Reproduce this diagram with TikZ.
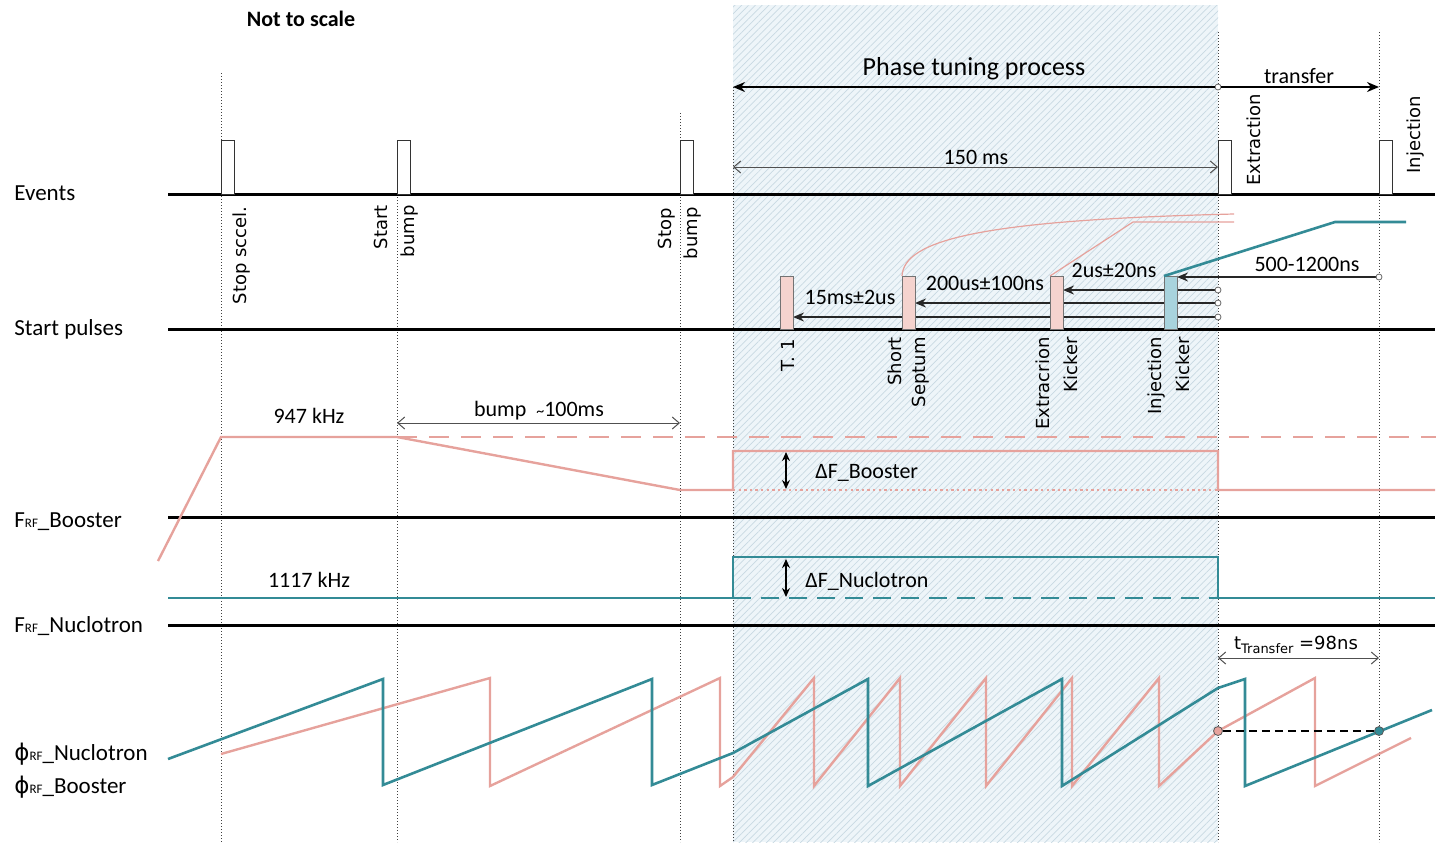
\documentclass[tikz,border=0pt]{standalone}
\usepackage{fontspec}
\setmainfont{Carlito}
\newfontfamily\dvs{DejaVu Sans}
\usetikzlibrary{arrows.meta,patterns.meta}
\definecolor{pinkc}{HTML}{E6A29C}
\definecolor{tealc}{HTML}{338B96}
\definecolor{pinkfill}{HTML}{F5D3CE}
\definecolor{bluefill}{HTML}{A8D3DD}
\definecolor{hatchbg}{HTML}{EEF5F9}
\definecolor{hatchln}{HTML}{C8D9E2}
\definecolor{dimgrey}{HTML}{505050}
\pgfdeclarelayer{back}
\pgfdeclarelayer{mid}
\pgfsetlayers{back,mid,main}
\newcommand\rfsub{{\fontsize{6.5}{7}\selectfont RF}}
\begin{document}
\begin{tikzpicture}[x=0.5pt,y=-0.5pt,
  axis/.style={line width=1.5pt,black},
  vguide/.style={line width=0.5pt,black!75,dash pattern=on 0.6pt off 0.9pt},
  pinkline/.style={pinkc,line width=1.2pt},
  tealline/.style={tealc,line width=1.3pt},
  evpulse/.style={draw=black!80,fill=white,line width=0.5pt,minimum width=6.5pt,minimum height=27pt,inner sep=0pt,outer sep=0pt,anchor=south west},
  stpulse/.style={draw=black!55,line width=0.5pt,minimum width=6.5pt,minimum height=26.5pt,inner sep=0pt,outer sep=0pt,anchor=south west},
  lbl/.style={font=\fontsize{11}{13}\selectfont,inner sep=0pt},
  side/.style={font=\fontsize{11.5}{13}\selectfont,inner sep=0pt,anchor=base west},
  vlbl/.style={font=\dvs\fontsize{9}{11}\selectfont,rotate=90,inner sep=0pt},
  dim/.style={dimgrey,line width=0.5pt,{Straight Barb[length=3.5pt,width=6pt]}-{Straight Barb[length=3.5pt,width=6pt]}},
  parrow/.style={black!85,line width=0.75pt,-{Stealth[length=5.5pt,width=4.5pt]}},
  bigarrow/.style={black,line width=0.9pt,-{Stealth[length=6pt,width=5pt]}},
  circ/.style={circle,draw=black!60,fill=white,line width=0.4pt,inner sep=0pt,minimum size=3pt},
  dot/.style={circle,draw=black!65,line width=0.4pt,inner sep=0pt,minimum size=4.5pt},
  deltaarrow/.style={black,line width=0.8pt,{Stealth[length=4.5pt,width=4pt]}-{Stealth[length=4.5pt,width=4pt]}},
]
\useasboundingbox (0,0) rectangle (1441,842);

% ---------- background: hatched phase-tuning window and guides
\begin{pgfonlayer}{back}
\fill[hatchbg] (733,5) rectangle (1218,842);
\fill[pattern={Lines[angle=45,distance=2.4pt,line width=0.35pt]},pattern color=hatchln] (733,5) rectangle (1218,842);
\draw[vguide] (221,73) -- (221,842);
\draw[vguide] (397,140) -- (397,842);
\draw[vguide] (680,113) -- (680,842);
\draw[vguide] (733,87) -- (733,842);
\draw[vguide] (1218,32) -- (1218,842);
\draw[vguide] (1379,32) -- (1379,842);
\end{pgfonlayer}

% ---------- title
\node[font=\bfseries\fontsize{11}{13}\selectfont,inner sep=0pt,anchor=base] (title) at (301,26) {Not to scale};

% ---------- row labels
\node[side] (lEv) at (14,200) {Events};
\node[side] (lSp) at (14,335) {Start pulses};
\node[side] (lFb) at (14,527) {F\rfsub\_Booster};
\node[side] (lFn) at (14,632) {F\rfsub\_Nuclotron};
\node[side] (lPn) at (14,760) {{\dvs ϕ}\rfsub\_Nuclotron};
\node[side] (lPb) at (14,793) {{\dvs ϕ}\rfsub\_Booster};

% ---------- axes
\draw[axis] (168,194) -- (1435,194);
\draw[axis] (168,329) -- (1435,329);
\draw[axis] (168,517) -- (1435,517);
\draw[axis] (168,625) -- (1435,625);

% ---------- phase tuning / transfer arrows
\node[circ] (ptc) at (1218,87) {};
\coordinate (ptl) at (733,87);
\coordinate (trr) at (1379,87);
\draw[bigarrow] (ptc) -- (ptl);
\draw[bigarrow] (ptc) -- (trr);
\node[font=\fontsize{13}{15}\selectfont,inner sep=0pt,anchor=base] (ptp) at (974,75) {Phase tuning process};
\node[lbl,anchor=base] (trn) at (1299,83) {transfer};

\coordinate (ms1) at (733,167);
\coordinate (ms2) at (1218,167);
\draw[dim] (ms1) -- (ms2);
\node[lbl,anchor=base] (ms150) at (976,164) {150 ms};

% ---------- event pulses
\node[evpulse] (ev1) at (221,194) {};
\node[evpulse] (ev2) at (397,194) {};
\node[evpulse] (ev3) at (680,194) {};
\node[evpulse] (ev4) at (1218,194) {};
\node[evpulse] (ev5) at (1379,194) {};
\node[vlbl,anchor=east] (lb1) at (242,206) {Stop sccel.};
\node[vlbl,anchor=east] (lb2a) at (381,205) {Start};
\node[vlbl,anchor=east] (lb2b) at (410,205) {bump};
\node[vlbl,anchor=east] (lb3a) at (667,208) {Stop};
\node[vlbl,anchor=east] (lb3b) at (693,207) {bump};
\node[vlbl,anchor=west] (lb4) at (1254,186) {Extraction};
\node[vlbl,anchor=west] (lb5) at (1416,174) {Injection};

% ---------- start pulses
\node[stpulse,fill=pinkfill] (t1) at (780,329) {};
\node[stpulse,fill=pinkfill] (ss) at (902,329) {};
\node[stpulse,fill=pinkfill] (ek) at (1050,329) {};
\node[stpulse,fill=bluefill] (ik) at (1164,329) {};
\node[vlbl,anchor=east] (lt1) at (788,339) {T. 1};
\node[vlbl,anchor=east] (lss1) at (895,337) {Short};
\node[vlbl,anchor=east] (lss2) at (921,337) {Septum};
\node[vlbl,anchor=east] (lek1) at (1043,337) {Extracrion};
\node[vlbl,anchor=east] (lek2) at (1071,337) {Kicker};
\node[vlbl,anchor=east] (lik1) at (1157,337) {Injection};
\node[vlbl,anchor=east] (lik2) at (1183,337) {Kicker};

\node[circ] (c1) at (1218,317) {};
\node[circ] (c2) at (1218,303) {};
\node[circ] (c3) at (1218,290) {};
\node[circ] (c4) at (1379,277) {};
\begin{pgfonlayer}{mid}
\draw[parrow] (c1.west) -- (c1 -| t1.east);
\draw[parrow] (c2.west) -- (c2 -| ss.east);
\draw[parrow] (c3.west) -- (c3 -| ek.east);
\draw[parrow] (c4.west) -- (c4 -| ik.east);
\end{pgfonlayer}
\node[lbl] (d1) at (850,297) {15ms±2us};
\node[lbl] (d2) at (985,283) {200us±100ns};
\node[lbl] (d3) at (1114,270) {2us±20ns};
\node[lbl] (d4) at (1307,264) {500-1200ns};

% response curves
\draw[pinkc,line width=0.6pt] (ss.north west) .. controls (904,240) and (980,220) .. (1234,214);
\draw[pinkc,line width=0.6pt] (ek.north west) -- (1133,222) -- (1234,222);
\draw[tealline] (ik.north west) -- (1335,222) -- (1406,222);

% ---------- F_RF Booster
\draw[pinkline,dash pattern=on 10pt off 6pt] (397,437) -- (1436,437);
\draw[pinkline,dash pattern=on 1.2pt off 1.6pt] (733,490) -- (1218,490);
\draw[pinkline] (158,561) -- (221,437) -- (397,437) -- (680,490) -- (733,490) -- (733,451) -- (1218,451) -- (1218,490) -- (1435,490);
\node[lbl,anchor=base] (f947) at (309,423) {947 kHz};
\coordinate (bm1) at (397,423);
\coordinate (bm2) at (680,423);
\draw[dim] (bm1) -- (bm2);
\node[lbl,anchor=base] (bump) at (539,416) {bump~~{\fontsize{8}{9}\selectfont\textasciitilde}100ms};
\coordinate (db1) at (786,452);
\coordinate (db2) at (786,489);
\draw[deltaarrow] (db1) -- (db2);
\node[lbl,anchor=base west] (dfb) at (815,478) {ΔF\_Booster};

% ---------- F_RF Nuclotron
\draw[tealline,dash pattern=on 9pt off 5pt] (733,598) -- (1218,598);
\draw[tealline] (168,598) -- (733,598) -- (733,557) -- (1218,557) -- (1218,598) -- (1435,598);
\node[lbl,anchor=base] (f1117) at (309,587) {1117 kHz};
\coordinate (dn1) at (786,559);
\coordinate (dn2) at (786,597);
\draw[deltaarrow] (dn1) -- (dn2);
\node[lbl,anchor=base west] (dfn) at (805,587) {ΔF\_Nuclotron};

% ---------- transfer time
\coordinate (tt1) at (1218,658);
\coordinate (tt2) at (1379,658);
\draw[dim] (tt1) -- (tt2);
\node[font=\dvs\fontsize{9}{11}\selectfont,inner sep=0pt,anchor=base] (ttr) at (1296,649) {t{\fontsize{6.5}{7}\selectfont\raisebox{-2pt}{Transfer}} =98ns};

% ---------- phases
\draw[pinkline] (221,754) -- (490,678) -- (490,786) -- (720,678) -- (720,786) -- (733,777) -- (814,678) -- (814,786) -- (900,678) -- (900,786) -- (986,678) -- (986,786) -- (1072,678) -- (1072,786) -- (1159,678) -- (1159,786) -- (1218,731) -- (1315,678) -- (1315,786) -- (1411,738);
\draw[tealline] (168,759) -- (383,679) -- (383,785) -- (652,679) -- (652,785) -- (733,753) -- (868,679) -- (868,786) -- (1062,679) -- (1062,786) -- (1218,688) -- (1245,679) -- (1245,786) -- (1432,710);
\node[dot,fill=pinkc] (rdot) at (1218,731) {};
\node[dot,fill=tealc] (tdot) at (1379,731) {};
\draw[black,line width=0.7pt,dash pattern=on 4pt off 2.5pt] (rdot) -- (tdot);
\end{tikzpicture}
\end{document}
